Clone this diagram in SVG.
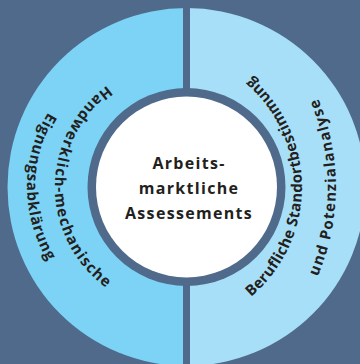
<svg xmlns="http://www.w3.org/2000/svg" width="360" height="364" viewBox="0 0 360 364">
<defs>
<style>
.bg{fill:#4f6a8a}
.left{fill:#7dd3f5}
.right{fill:#a8dff8}
.lbl{font-family:"Open Sans","Noto Sans","Liberation Sans",sans-serif;font-weight:bold;fill:#231f20}
.arc{font-size:15px}
.center{font-size:16px;letter-spacing:1.3px;text-anchor:middle}
</style>
<path id="pLi" d="M179.5,62.4 A124.5,124.5 0 0 0 179.5,311.6"/>
<path id="pLo" d="M169,45 A142,142 0 0 0 169,329"/>
<path id="pRi" d="M158,331 A144,144 0 0 0 158,43"/>
<path id="pRo" d="M106,417 A230,230 0 0 0 106,-43"/>
</defs>
<rect class="bg" x="0" y="0" width="360" height="364"/>
<g id="left-segment">
<path class="left" d="M186.5,8 A179,179 0 0 0 186.5,366 Z"/>
<text class="lbl arc" letter-spacing="1.2"><textPath href="#pLi" startOffset="50%" text-anchor="middle">Handwerklich-mechanische</textPath></text>
<text class="lbl arc" letter-spacing="0.8"><textPath href="#pLo" startOffset="50%" text-anchor="middle">Eignungsabklärung</textPath></text>
</g>
<g id="right-segment">
<path class="right" d="M186.5,8 A179,179 0 0 1 186.5,366 Z"/>
<text class="lbl arc" letter-spacing="0.3"><textPath href="#pRi" startOffset="50%" text-anchor="middle">Berufliche Standortbestimmung</textPath></text>
<text class="lbl arc" letter-spacing="1.2"><textPath href="#pRo" startOffset="50%" text-anchor="middle">und Potenzialanalyse</textPath></text>
</g>
<g id="connectors">
<rect class="bg" x="183" y="0" width="7" height="364"/>
</g>
<g id="center-node">
<circle class="bg" cx="186.5" cy="187" r="99"/>
<circle cx="186.5" cy="187" r="90.5" fill="#ffffff"/>
<text class="lbl center" x="189" y="168.5">Arbeits-</text>
<text class="lbl center" x="189" y="193.5">marktliche</text>
<text class="lbl center" x="189" y="218.5">Assessements</text>
</g>
</svg>
